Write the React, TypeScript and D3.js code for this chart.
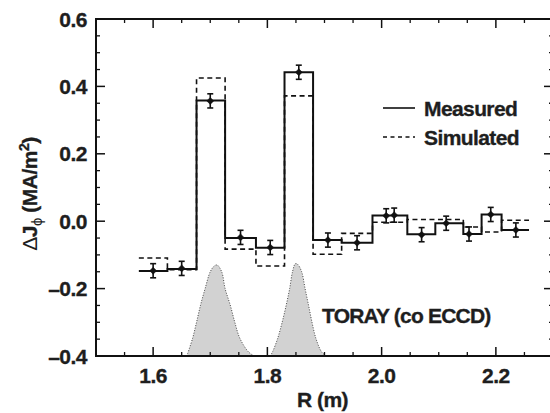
import React from "react";
import * as d3 from "d3";

// ---- data ----
const binEdges = [1.575, 1.625, 1.676, 1.726, 1.78, 1.83, 1.88, 1.93, 1.984, 2.045, 2.094, 2.143, 2.175, 2.21, 2.258];
const measuredBins = [-0.148, -0.142, 0.358, -0.05, -0.079, 0.442, -0.056, -0.064, 0.017, -0.039, -0.006, -0.038, 0.02, -0.026];
const simulatedBins = [-0.109, -0.144, 0.425, -0.083, -0.133, 0.372, -0.098, -0.036, -0.003, 0.005, 0.005, -0.017, -0.032, 0.003];

const pointR = [1.6, 1.65, 1.7, 1.753, 1.805, 1.855, 1.906, 1.957, 2.008, 2.022, 2.07, 2.113, 2.153, 2.191, 2.235];
const pointJ = [-0.147, -0.14, 0.357, -0.048, -0.078, 0.442, -0.056, -0.064, 0.016, 0.018, -0.04, -0.006, -0.038, 0.02, -0.026];
const pointErr = [0.021, 0.021, 0.021, 0.021, 0.021, 0.021, 0.021, 0.021, 0.021, 0.021, 0.021, 0.021, 0.021, 0.021, 0.021];

const toray1R = [1.659, 1.669, 1.676, 1.683, 1.691, 1.7, 1.707, 1.712, 1.72, 1.726, 1.735, 1.743, 1.752, 1.767, 1.777];
const toray1J = [-0.4, -0.348, -0.3, -0.249, -0.2, -0.15, -0.133, -0.13, -0.15, -0.2, -0.249, -0.3, -0.348, -0.388, -0.4];
const toray2R = [1.805, 1.809, 1.818, 1.826, 1.833, 1.839, 1.844, 1.849, 1.853, 1.86, 1.866, 1.872, 1.878, 1.885, 1.895, 1.903];
const toray2J = [-0.4, -0.388, -0.348, -0.299, -0.249, -0.2, -0.15, -0.126, -0.128, -0.15, -0.2, -0.249, -0.299, -0.348, -0.388, -0.4];

const xMajorTicks = [1.6, 1.8, 2.0, 2.2];
const yMajorTicks = [0.6, 0.4, 0.2, 0.0, -0.2, -0.4];
const yTickLabels = ["0.6", "0.4", "0.2", "0.0", "\u20130.2", "\u20130.4"];

const W = 550, H = 413;
const left = 96, right = 553, top = 19, bottom = 356;

export default function App() {
  const x = d3.scaleLinear().domain([1.5, 2.3]).range([left, right]);
  const y = d3.scaleLinear().domain([-0.4, 0.6]).range([bottom, top]);

  const stepPath = (vals: number[]) => {
    const pts: [number, number][] = [];
    vals.forEach((v, i) => {
      pts.push([binEdges[i], v]);
      pts.push([binEdges[i + 1], v]);
    });
    return d3.line<[number, number]>().x((d) => x(d[0])).y((d) => y(d[1]))(pts) || "";
  };

  const area = d3
    .area<[number, number]>()
    .x((d) => x(d[0]))
    .y0(y(-0.4))
    .y1((d) => y(d[1]))
    .curve(d3.curveCatmullRom);
  const outline = d3
    .line<[number, number]>()
    .x((d) => x(d[0]))
    .y((d) => y(d[1]))
    .curve(d3.curveCatmullRom);
  const g1 = toray1R.map((r, i) => [r, toray1J[i]] as [number, number]);
  const g2 = toray2R.map((r, i) => [r, toray2J[i]] as [number, number]);

  const xMinor = d3.range(1.55, 2.3, 0.05).filter((v) => !xMajorTicks.some((m) => Math.abs(m - v) < 1e-6));
  const yMinor = d3.range(-0.35, 0.6, 0.05).filter((v) => !yMajorTicks.some((m) => Math.abs(m - v) < 1e-6));

  const font = "'Liberation Sans', Arial, Helvetica, sans-serif";
  const txt = "#1e1e1e";
  const majorLen = 9, minorLen = 4;
  const bold = { fontWeight: "bold" as const, fill: txt, stroke: txt, strokeWidth: 0.35 };

  return (
    <svg width={W} height={H} style={{ position: "absolute", left: 0, top: 0, background: "#fff" }} fontFamily={font}>
      {/* TORAY profiles */}
      {[g1, g2].map((g, i) => (
        <g key={i}>
          <path d={area(g) || ""} fill="#d2d2d2" stroke="none" />
          <path d={outline(g) || ""} fill="none" stroke="#444" strokeWidth={1} strokeDasharray="1,1.6" />
        </g>
      ))}

      {/* simulated (dashed) */}
      <path d={stepPath(simulatedBins)} fill="none" stroke="#111" strokeWidth={1.6} strokeDasharray="5,3.5" />
      {/* measured */}
      <path d={stepPath(measuredBins)} fill="none" stroke="#111" strokeWidth={2} />

      {/* error bars and points */}
      {pointR.map((r, i) => {
        const cx = x(r);
        const cy = y(pointJ[i]);
        const y1 = y(pointJ[i] + pointErr[i]);
        const y2 = y(pointJ[i] - pointErr[i]);
        return (
          <g key={i} stroke="#111" strokeWidth={1.6}>
            <line x1={cx} x2={cx} y1={y1} y2={y2} />
            <line x1={cx - 3} x2={cx + 3} y1={y1} y2={y1} />
            <line x1={cx - 3} x2={cx + 3} y1={y2} y2={y2} />
            <path d={`M${cx},${cy - 3.5}L${cx + 3.5},${cy}L${cx},${cy + 3.5}L${cx - 3.5},${cy}Z`} fill="#111" strokeWidth={0.5} />
          </g>
        );
      })}

      {/* frame */}
      <rect x={left} y={top} width={right - left} height={bottom - top} fill="none" stroke="#111" strokeWidth={2} />

      {/* x ticks */}
      {xMajorTicks.map((v) => (
        <g key={"xM" + v} stroke="#111" strokeWidth={1.5}>
          <line x1={x(v)} x2={x(v)} y1={bottom} y2={bottom - majorLen} />
          <line x1={x(v)} x2={x(v)} y1={top} y2={top + majorLen} />
        </g>
      ))}
      {xMinor.map((v) => (
        <g key={"xm" + v} stroke="#111" strokeWidth={1.3}>
          <line x1={x(v)} x2={x(v)} y1={bottom} y2={bottom - minorLen} />
          <line x1={x(v)} x2={x(v)} y1={top} y2={top + minorLen} />
        </g>
      ))}
      {/* y ticks */}
      {yMajorTicks.map((v) => (
        <g key={"yM" + v} stroke="#111" strokeWidth={1.5}>
          <line x1={left} x2={left + majorLen} y1={y(v)} y2={y(v)} />
          <line x1={right} x2={right - majorLen} y1={y(v)} y2={y(v)} />
        </g>
      ))}
      {yMinor.map((v) => (
        <g key={"ym" + v} stroke="#111" strokeWidth={1.3}>
          <line x1={left} x2={left + minorLen} y1={y(v)} y2={y(v)} />
          <line x1={right} x2={right - minorLen} y1={y(v)} y2={y(v)} />
        </g>
      ))}

      {/* tick labels */}
      {xMajorTicks.map((v) => (
        <text key={"xl" + v} x={x(v)} y={383} textAnchor="middle" fontSize={21} {...bold} letterSpacing={-0.5}>
          {v.toFixed(1)}
        </text>
      ))}
      {yMajorTicks.map((v, i) => (
        <text key={"yl" + v} x={87} y={y(v) + 7.5} textAnchor="end" fontSize={21} {...bold} letterSpacing={-0.5}>
          {yTickLabels[i]}
        </text>
      ))}

      {/* axis titles */}
      <text x={(left + right) / 2 - 2} y={407} textAnchor="middle" fontSize={21} {...bold} letterSpacing={-0.5}>
        R (m)
      </text>
      <text transform={`translate(37,194) rotate(-90)`} textAnchor="middle" fontSize={21} {...bold} letterSpacing={-0.5}>
        <tspan fontWeight="normal" strokeWidth={0}>{"\u0394"}</tspan>
        <tspan>J</tspan>
        <tspan fontSize={15} fontWeight="normal" strokeWidth={0} dy={5}>{"\u03d5"}</tspan>
        <tspan dy={-5}>{" (MA/m"}</tspan>
        <tspan fontSize={14} dy={-8}>2</tspan>
        <tspan dy={8}>)</tspan>
      </text>

      {/* legend */}
      <line x1={383} x2={415} y1={108} y2={108} stroke="#111" strokeWidth={1.6} />
      <line x1={383} x2={415} y1={137} y2={137} stroke="#111" strokeWidth={1.4} strokeDasharray="4,3.5" />
      <text x={424} y={115.5} fontSize={21} {...bold} letterSpacing={-0.6}>
        Measured
      </text>
      <text x={424} y={145} fontSize={21} {...bold} letterSpacing={-0.6}>
        Simulated
      </text>

      <text x={322} y={323} fontSize={21} {...bold} letterSpacing={-0.8}>
        TORAY (co ECCD)
      </text>
    </svg>
  );
}
